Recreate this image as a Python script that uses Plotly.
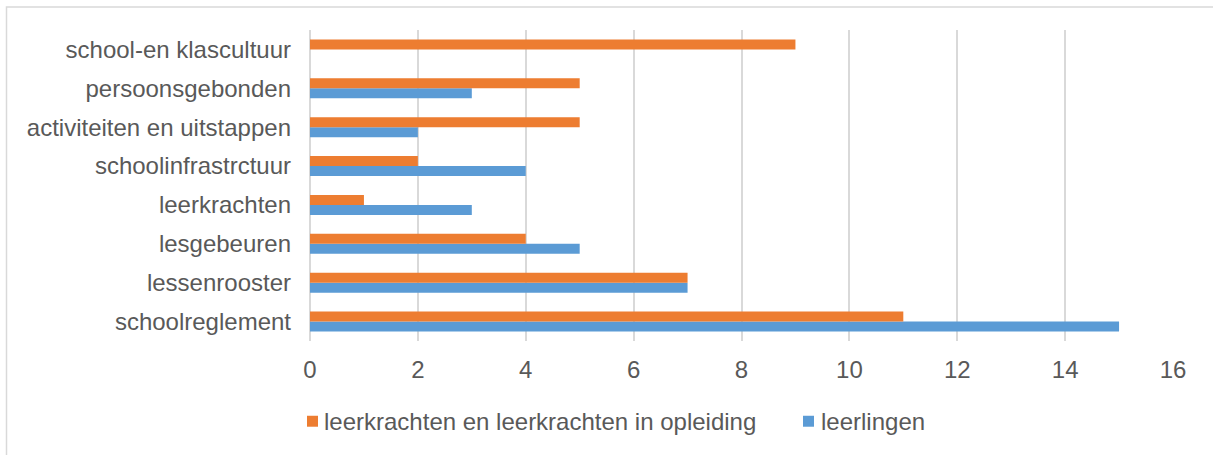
import plotly.graph_objects as go

categories = ["schoolreglement", "lessenrooster", "lesgebeuren", "leerkrachten",
              "schoolinfrastrctuur", "activiteiten en uitstappen", "persoonsgebonden",
              "school-en klascultuur"]
leerkrachten_vals = [11, 7, 4, 1, 2, 5, 5, 9]
leerlingen_vals = [15, 7, 5, 3, 4, 2, 3, None]
x_ticks = [0, 2, 4, 6, 8, 10, 12, 14, 16]
series_names = ["leerkrachten en leerkrachten in opleiding", "leerlingen"]
series_colors = ["#ED7D31", "#5B9BD5"]

W, H = 1213, 455
L, R, T, B = 310, 40, 29.5, 113.5
pw, ph = W - L - R, H - T - B
TXT = "#595959"

fig = go.Figure()
fig.add_trace(go.Bar(y=categories, x=leerlingen_vals, orientation="h", name=series_names[1],
                     marker=dict(color=series_colors[1], line=dict(width=0))))
fig.add_trace(go.Bar(y=categories, x=leerkrachten_vals, orientation="h", name=series_names[0],
                     marker=dict(color=series_colors[0], line=dict(width=0))))

def px_x(p):
    return (p - L) / pw

def px_y(p):
    return (H - B - p) / ph

shapes = [dict(type="rect", xref="paper", yref="paper",
               x0=px_x(6.5), x1=px_x(1240), y0=px_y(480), y1=px_y(6.5),
               line=dict(color="#D9D9D9", width=1.5), fillcolor="rgba(0,0,0,0)",
               layer="below")]
annotations = []
legend_y = 422
for name, color, sq_x, tx_x in zip(series_names, series_colors, [307, 803], [322, 819]):
    shapes.append(dict(type="rect", xref="paper", yref="paper",
                       x0=px_x(sq_x), x1=px_x(sq_x + 11),
                       y0=px_y(legend_y + 5.5), y1=px_y(legend_y - 5.5),
                       line=dict(width=0), fillcolor=color))
    annotations.append(dict(text=name, xref="paper", yref="paper", x=px_x(tx_x),
                            y=px_y(legend_y), xanchor="left", yanchor="middle",
                            showarrow=False, font=dict(size=24, color=TXT)))

fig.update_layout(
    width=W, height=H,
    margin=dict(l=L, r=R, t=T, b=B, pad=0, autoexpand=False),
    paper_bgcolor="white", plot_bgcolor="white",
    font=dict(family="Liberation Sans, Arial, sans-serif", size=24, color=TXT),
    barmode="group", bargap=0.487, bargroupgap=0,
    showlegend=False,
    xaxis=dict(range=[0, 16], tickvals=x_ticks, showgrid=True, gridcolor="#D9D9D9",
               gridwidth=1.5, zeroline=True, zerolinecolor="#D9D9D9", zerolinewidth=1.5,
               showline=False, ticks="", ticklabelstandoff=12, automargin=False,
               tickfont=dict(size=24, color=TXT)),
    yaxis=dict(categoryorder="array", categoryarray=categories, showgrid=False,
               ticks="", ticklabelstandoff=18, showline=False, automargin=False,
               tickfont=dict(size=24, color=TXT)),
    shapes=shapes,
    annotations=annotations,
)

fig.write_html("out.html", config={"displayModeBar": False},
               post_script="document.body.style.margin='0';")
